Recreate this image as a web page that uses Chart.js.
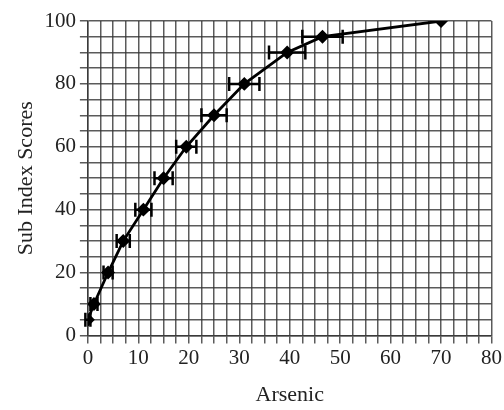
<!DOCTYPE html>
<html>
<head>
<meta charset="utf-8">
<script src="https://cdn.jsdelivr.net/npm/chart.js@4/dist/chart.umd.min.js"></script>
<style>
  html, body { margin: 0; padding: 0; background: #fff; }
  #wrap { width: 504px; height: 410px; }
</style>
</head>
<body>
<div id="wrap"><canvas id="chart"></canvas></div>
<script>
// arsenic concentration vs sub index score
const arsenic = [0, 1.2, 4, 7, 11, 15, 19.5, 25, 31, 39.5, 46.5, 70];
const scores = [5, 10, 20, 30, 40, 50, 60, 70, 80, 90, 95, 100];
const xErrors = [0.5, 0.7, 0.9, 1.3, 1.6, 1.8, 2, 2.5, 3, 3.6, 4, 0];

const xTickLabels = ['0', '10', '20', '30', '40', '50', '60', '70', '80'];
const yTickLabels = ['0', '20', '40', '60', '80', '100'];

const serif = "'Liberation Serif', 'DejaVu Serif', serif";
const gridColor = 'rgba(50, 50, 50, 0.8)';

// horizontal error bars with caps
const errorBars = {
  id: 'errorBars',
  afterDatasetsDraw(chart) {
    const { ctx, scales } = chart;
    ctx.save();
    ctx.strokeStyle = '#000';
    ctx.lineWidth = 2.5;
    arsenic.forEach((x, i) => {
      if (!xErrors[i]) return;
      const y = scales.y.getPixelForValue(scores[i]);
      const left = scales.x.getPixelForValue(x - xErrors[i]);
      const right = scales.x.getPixelForValue(x + xErrors[i]);
      ctx.beginPath();
      ctx.moveTo(left, y);
      ctx.lineTo(right, y);
      ctx.moveTo(left, y - 7);
      ctx.lineTo(left, y + 7);
      ctx.moveTo(right, y - 7);
      ctx.lineTo(right, y + 7);
      ctx.stroke();
    });
    ctx.restore();
  },
};

new Chart(document.getElementById('chart'), {
  type: 'scatter',
  data: {
    datasets: [
      {
        data: arsenic.map((x, i) => ({ x, y: scores[i] })),
        showLine: true,
        borderColor: '#000',
        backgroundColor: '#000',
        borderWidth: 2.8,
        pointStyle: 'rectRot',
        pointRadius: 5,
        pointHoverRadius: 5,
      },
    ],
  },
  options: {
    responsive: true,
    maintainAspectRatio: false,
    animation: false,
    layout: { padding: { top: 21, right: 4, bottom: 2, left: 13 } },
    plugins: {
      legend: { display: false },
      tooltip: { enabled: false },
    },
    scales: {
      x: {
        type: 'linear',
        min: 0,
        max: 80,
        border: { color: gridColor, width: 1.5 },
        grid: { color: gridColor, lineWidth: 1.5, tickLength: 8 },
        ticks: {
          stepSize: 2.5,
          autoSkip: false,
          maxRotation: 0,
          padding: 2,
          color: '#222',
          font: { family: serif, size: 21 },
          callback: (v) => (v % 10 === 0 ? xTickLabels[v / 10] : ''),
        },
        title: {
          display: true,
          text: 'Arsenic',
          color: '#222',
          font: { family: serif, size: 22 },
          padding: { top: 9, bottom: 0 },
        },
      },
      y: {
        type: 'linear',
        min: 0,
        max: 100,
        border: { color: gridColor, width: 1.5 },
        grid: { color: gridColor, lineWidth: 1.5, tickLength: 8 },
        ticks: {
          stepSize: 5,
          autoSkip: false,
          padding: 4,
          color: '#222',
          font: { family: serif, size: 21 },
          callback: (v) => (v % 20 === 0 ? yTickLabels[v / 20] : ''),
        },
        title: {
          display: true,
          text: 'Sub Index Scores',
          color: '#222',
          font: { family: serif, size: 22 },
          padding: { top: 0, bottom: 1 },
        },
      },
    },
  },
  plugins: [errorBars],
});
</script>
</body>
</html>
